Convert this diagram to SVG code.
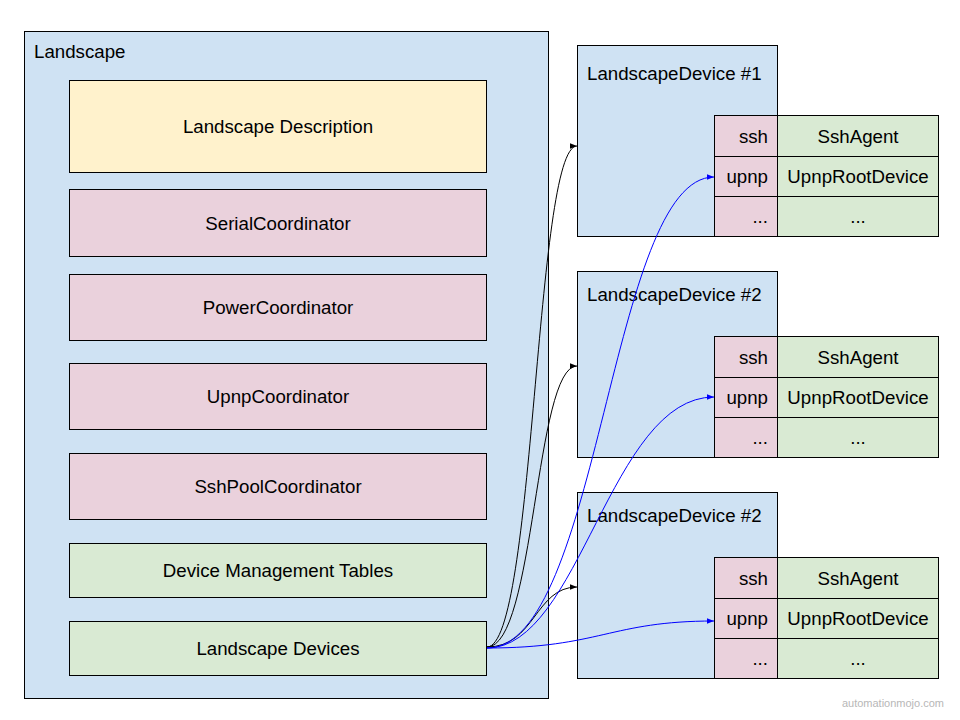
<svg xmlns="http://www.w3.org/2000/svg" width="960" height="720" viewBox="0 0 960 720">
<style>
text{font-family:"Liberation Sans",Arial,sans-serif;font-size:18.7px;fill:#000}
.c{text-anchor:middle}
.r{text-anchor:end}
.box{stroke:#000;stroke-width:1}
.blue{fill:#cfe2f3}
.yel{fill:#fff2cc}
.pink{fill:#ead1dc}
.grn{fill:#d9ead3}
.k{fill:none;stroke:#000;stroke-width:1}
.b{fill:none;stroke:#0000ff;stroke-width:1}
.wm{font-size:11px;fill:#b7b7b7;text-anchor:end}
</style>
<defs>
<marker id="ak" viewBox="0 0 10 10" refX="10" refY="5" markerWidth="7" markerHeight="7" orient="auto" markerUnits="userSpaceOnUse"><path d="M0,1 L10,5 L0,9 z" fill="#000"/></marker>
<marker id="ab" viewBox="0 0 10 10" refX="10" refY="5" markerWidth="7" markerHeight="7" orient="auto" markerUnits="userSpaceOnUse"><path d="M0,1 L10,5 L0,9 z" fill="#0000ff"/></marker>
</defs>
<rect width="960" height="720" fill="#fff"/>
<g id="landscape">
<rect class="box blue" x="24.5" y="31.5" width="524" height="667"/>
<text x="34" y="58">Landscape</text>
</g>
<g id="landscape-description"><rect class="box yel" x="69.5" y="80.5" width="417" height="92"/><text class="c" x="278" y="133">Landscape Description</text></g>
<g id="serial-coordinator"><rect class="box pink" x="69.5" y="189.5" width="417" height="67"/><text class="c" x="278" y="230">SerialCoordinator</text></g>
<g id="power-coordinator"><rect class="box pink" x="69.5" y="274.5" width="417" height="66"/><text class="c" x="278" y="314">PowerCoordinator</text></g>
<g id="upnp-coordinator"><rect class="box pink" x="69.5" y="363.5" width="417" height="66"/><text class="c" x="278" y="403">UpnpCoordinator</text></g>
<g id="sshpool-coordinator"><rect class="box pink" x="69.5" y="453.5" width="417" height="66"/><text class="c" x="278" y="493">SshPoolCoordinator</text></g>
<g id="device-management-tables"><rect class="box grn" x="69.5" y="543.5" width="417" height="54"/><text class="c" x="278" y="577">Device Management Tables</text></g>
<g id="landscape-devices"><rect class="box grn" x="69.5" y="621.5" width="417" height="54"/><text class="c" x="278" y="655">Landscape Devices</text></g>

<g id="device1">
<rect class="box blue" x="577.5" y="45.5" width="200" height="191"/>
<text x="587" y="80">LandscapeDevice #1</text>
<rect class="box pink" x="714.5" y="115.5" width="63" height="41"/>
<rect class="box pink" x="714.5" y="156.5" width="63" height="40"/>
<rect class="box pink" x="714.5" y="196.5" width="63" height="40"/>
<rect class="box grn" x="777.5" y="115.5" width="161" height="41"/>
<rect class="box grn" x="777.5" y="156.5" width="161" height="40"/>
<rect class="box grn" x="777.5" y="196.5" width="161" height="40"/>
<text class="r" x="768" y="143">ssh</text><text class="c" x="858" y="143">SshAgent</text>
<text class="r" x="768" y="183">upnp</text><text class="c" x="858" y="183">UpnpRootDevice</text>
<text class="r" x="768" y="223">...</text><text class="c" x="858" y="223">...</text>
</g>
<g id="device2">
<rect class="box blue" x="577.5" y="271.5" width="200" height="186"/>
<text x="587" y="301">LandscapeDevice #2</text>
<rect class="box pink" x="714.5" y="336.5" width="63" height="41"/>
<rect class="box pink" x="714.5" y="377.5" width="63" height="40"/>
<rect class="box pink" x="714.5" y="417.5" width="63" height="40"/>
<rect class="box grn" x="777.5" y="336.5" width="161" height="41"/>
<rect class="box grn" x="777.5" y="377.5" width="161" height="40"/>
<rect class="box grn" x="777.5" y="417.5" width="161" height="40"/>
<text class="r" x="768" y="364">ssh</text><text class="c" x="858" y="364">SshAgent</text>
<text class="r" x="768" y="404">upnp</text><text class="c" x="858" y="404">UpnpRootDevice</text>
<text class="r" x="768" y="444">...</text><text class="c" x="858" y="444">...</text>
</g>
<g id="device3">
<rect class="box blue" x="577.5" y="492.5" width="200" height="186"/>
<text x="587" y="522">LandscapeDevice #2</text>
<rect class="box pink" x="714.5" y="557.5" width="63" height="41"/>
<rect class="box pink" x="714.5" y="598.5" width="63" height="40"/>
<rect class="box pink" x="714.5" y="638.5" width="63" height="40"/>
<rect class="box grn" x="777.5" y="557.5" width="161" height="41"/>
<rect class="box grn" x="777.5" y="598.5" width="161" height="40"/>
<rect class="box grn" x="777.5" y="638.5" width="161" height="40"/>
<text class="r" x="768" y="585">ssh</text><text class="c" x="858" y="585">SshAgent</text>
<text class="r" x="768" y="625">upnp</text><text class="c" x="858" y="625">UpnpRootDevice</text>
<text class="r" x="768" y="665">...</text><text class="c" x="858" y="665">...</text>
</g>

<g id="connectors">
<path class="k" d="M487,647 C535,647 535,146 577,146" marker-end="url(#ak)"/>
<path class="k" d="M487,647 C535,647 535,366 577,366" marker-end="url(#ak)"/>
<path class="k" d="M487,647 C535,647 535,587 577,587" marker-end="url(#ak)"/>
<path class="b" d="M487,648 C600,648 610,177 714,177" marker-end="url(#ab)"/>
<path class="b" d="M487,648 C580,648 610,397 714,397" marker-end="url(#ab)"/>
<path class="b" d="M487,648 C600,648 610,621 714,621" marker-end="url(#ab)"/>
</g>
<text class="wm" x="944" y="707">automationmojo.com</text>
</svg>
